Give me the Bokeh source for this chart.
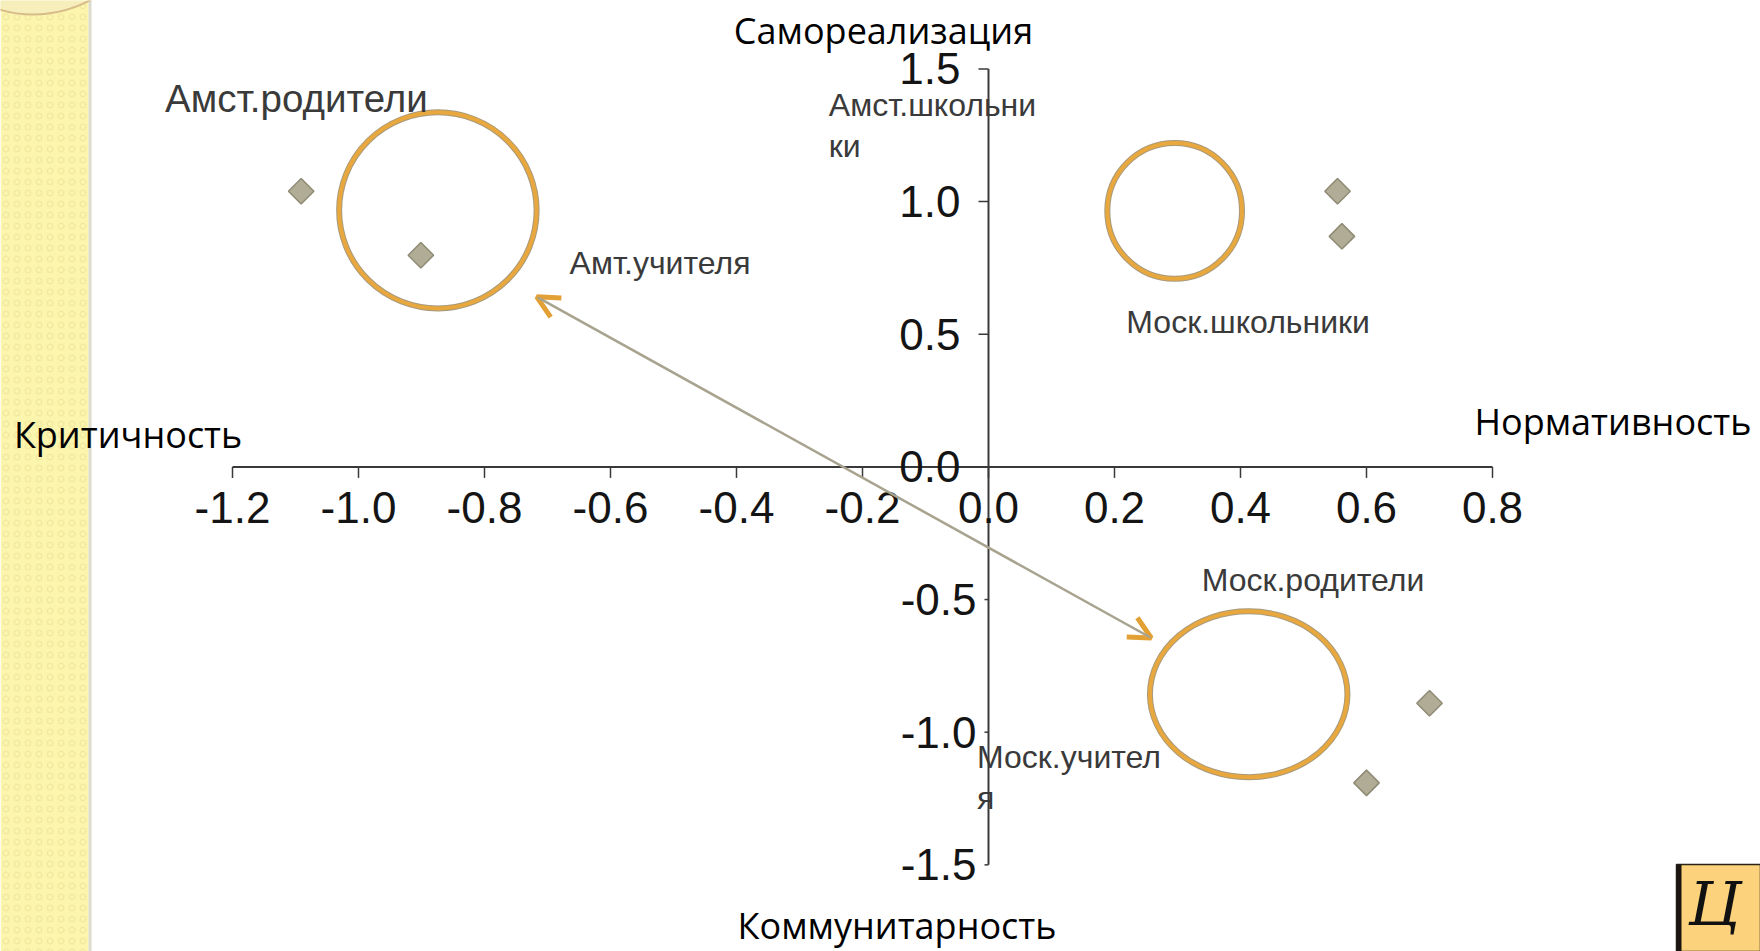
import numpy as np
from bokeh.plotting import figure
from bokeh.models import Range1d, Arrow, OpenHead, BoxAnnotation, ColumnDataSource
from bokeh.core.properties import value
from bokeh.embed import file_html
from bokeh.resources import INLINE

# ---------------- data ----------------
point_x = [-1.091, -0.901, 0.554, 0.561, 0.700, 0.600]
point_y = [1.039, 0.798, 1.039, 0.869, -0.891, -1.191]

cluster_x = [-0.874, 0.2955, 0.413]
cluster_y = [0.967, 0.965, -0.857]
cluster_w = [0.3135, 0.2138, 0.3135]
cluster_h = [0.739, 0.512, 0.626]

label_text = ["Амст.родители", "Амст.школьни\nки", "Амт.учителя",
              "Моск.школьники", "Моск.родители", "Моск.учител\nя"]
label_x = [-1.307, -0.2535, -0.665, 0.2188, 0.3383, -0.0182]
label_y = [1.388, 1.2865, 0.770, 0.546, -0.4274, -1.1707]
label_size = ["38.5px", "32px", "32px", "32px", "32px", "32px"]

arrow_x = [-0.717, 0.2584]
arrow_y = [0.641, -0.645]

x_ticks = [-1.2, -1.0, -0.8, -0.6, -0.4, -0.2, 0.0, 0.2, 0.4, 0.6, 0.8]
x_tick_labels = ["-1.2", "-1.0", "-0.8", "-0.6", "-0.4", "-0.2", "0.0", "0.2", "0.4", "0.6", "0.8"]
y_ticks = [1.5, 1.0, 0.5, 0.0, -0.5, -1.0, -1.5]
y_tick_labels = ["1.5", "1.0", "0.5", "0.0", "-0.5", "-1.0", "-1.5"]

title_text = ["Самореализация", "Критичность", "Нормативность", "Коммунитарность"]
title_x = [-0.1667, -1.547, 0.7714, -0.1452]
title_y = [1.646, 0.1206, 0.1711, -1.728]
title_align = ["center", "left", "left", "center"]

# ---------------- figure / scales ----------------
W, H = 1760, 951
SX, SY = 630.0, 265.3
OX, OY = 988.0, 466.4
X0 = -OX / SX
X1 = (W - OX) / SX
Y1 = OY / SY
Y0 = -(H - OY) / SY

def px2x(px):
    return X0 + px / SX

def px2y(py):
    return Y1 - py / SY

p = figure(width=W, height=H, output_backend="svg", toolbar_location=None,
           x_range=Range1d(X0, X1), y_range=Range1d(Y0, Y1),
           x_axis_type=None, y_axis_type=None, min_border=0,
           outline_line_color=None, background_fill_color="white",
           border_fill_color="white")

# ---------------- slide decorations ----------------
p.add_layout(BoxAnnotation(left=X0, right=px2x(88), fill_color="#fbf5ae", fill_alpha=1.0,
                           line_color=None, hatch_pattern="ring", hatch_color="#f0e69c",
                           hatch_scale=11, hatch_alpha=0.7, hatch_weight=1.5,
                           level="underlay"))
p.add_layout(BoxAnnotation(left=px2x(88), right=px2x(91), fill_color="#dcdccc", fill_alpha=1.0,
                           line_color=None, level="underlay"))
p.ellipse(x=[px2x(33)], y=[px2y(-105)], width=238, height=238,
          width_units="screen", height_units="screen",
          fill_color="#f6efbb", line_color="#d8bb8a", line_width=2)

p.quad(left=[px2x(1676)], right=[X1], top=[px2y(864)], bottom=[Y0],
       fill_color="#fcd27c", line_color="#2a2418", line_width=1.5)
p.quad(left=[px2x(1676)], right=[px2x(1681)], top=[px2y(864)], bottom=[Y0],
       fill_color="#1a1510", line_color=None)
p.text(x=[px2x(1688)], y=[px2y(868)], text=["Ц"], text_font=value("DejaVu Serif"),
       text_font_style="italic", text_font_size="60px", text_color="#111111",
       text_baseline="top", text_align="left")

# ---------------- axes (drawn through the data scales) ----------------
axis_col = "#3a3a3a"
p.segment(x0=[x_ticks[0]], y0=[0], x1=[x_ticks[-1]], y1=[0], line_color=axis_col, line_width=2)
p.segment(x0=[0], y0=[y_ticks[-1]], x1=[0], y1=[y_ticks[0]], line_color=axis_col, line_width=2)

xt = np.array(x_ticks)
p.segment(x0=xt, y0=np.zeros_like(xt), x1=xt, y1=np.zeros_like(xt) - 11 / SY,
          line_color=axis_col, line_width=1.5)
p.text(x=xt, y=np.zeros_like(xt), text=x_tick_labels, text_font=value("Liberation Sans"),
       text_font_size="44px", text_color="#141414", text_align="center",
       text_baseline="middle", y_offset=41)

yt = np.array(y_ticks)
tick_len = np.where(yt >= 0, 10, 4) / SX
p.segment(x0=np.zeros_like(yt), y0=yt, x1=-tick_len, y1=yt, line_color=axis_col, line_width=1.5)
pos = yt >= 0
p.text(x=np.zeros(pos.sum()), y=yt[pos], text=[t for t, k in zip(y_tick_labels, pos) if k],
       text_font=value("Liberation Sans"), text_font_size="44px", text_color="#141414",
       text_align="right", text_baseline="middle", x_offset=-28)
neg = ~pos
p.text(x=np.zeros(neg.sum()), y=yt[neg], text=[t for t, k in zip(y_tick_labels, neg) if k],
       text_font=value("Liberation Sans"), text_font_size="44px", text_color="#141414",
       text_align="right", text_baseline="middle", x_offset=-12)

# ---------------- data marks ----------------
p.ellipse(x=cluster_x, y=cluster_y, width=cluster_w, height=cluster_h,
          fill_color=None, line_color="#a89a7c", line_width=6)
p.ellipse(x=cluster_x, y=cluster_y, width=cluster_w, height=cluster_h,
          fill_color=None, line_color="#e8a83e", line_width=4)

p.scatter(x=point_x, y=point_y, marker="square", angle=np.pi / 4, size=18,
          fill_color="#b0ac95", line_color="#8f8b75", line_width=1.5)

p.add_layout(Arrow(x_start=arrow_x[0], y_start=arrow_y[0], x_end=arrow_x[1], y_end=arrow_y[1],
                   line_color="#a7a38e", line_width=2.5,
                   start=OpenHead(size=22, line_color="#e3a035", line_width=5),
                   end=OpenHead(size=22, line_color="#e3a035", line_width=5)))

src = ColumnDataSource(dict(x=label_x, y=label_y, text=label_text, size=label_size))
p.text(x="x", y="y", text="text", text_font_size="size", source=src,
       text_font=value("Liberation Sans"), text_color="#3a3a3a",
       text_align="left", text_baseline="middle", text_line_height=1.16)

tsrc = ColumnDataSource(dict(x=title_x, y=title_y, text=title_text, align=title_align))
p.text(x="x", y="y", text="text", text_align="align", source=tsrc,
       text_font=value("Open Sans"), text_font_size="36px", text_color="#000000",
       text_baseline="middle")

open("out.html", "w").write(file_html(p, INLINE))
